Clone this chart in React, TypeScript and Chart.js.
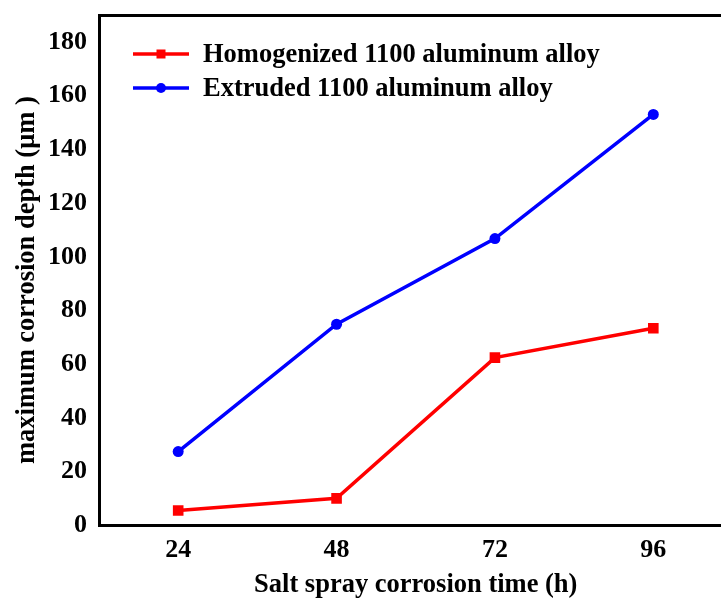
import React, { useEffect, useRef } from "react";
import { Chart, registerables } from "chart.js";

Chart.register(...registerables);

const hours = [24, 48, 72, 96];
const homogenized = [5.6, 10.1, 62.5, 73.4];
const extruded = [27.5, 74.9, 106.8, 153.0];
const yTickValues = [0, 20, 40, 60, 80, 100, 120, 140, 160, 180];
const seriesLabels = ["Homogenized 1100 aluminum alloy", "Extruded 1100 aluminum alloy"];
const xTitle = "Salt spray corrosion time (h)";
const yTitle = "maximum corrosion depth (\u03bcm )   ";

const FONT = '"Liberation Serif", "Times New Roman", serif';
const RED = "#ff0000";
const BLUE = "#0000ff";

const legendPlugin = {
  id: "inlineLegend",
  afterDraw(chart: any) {
    const ctx = chart.ctx;
    ctx.save();
    chart.data.datasets.forEach((ds: any, i: number) => {
      const y = 54 + 34 * i;
      ctx.strokeStyle = ds.borderColor;
      ctx.lineWidth = 3.5;
      ctx.beginPath();
      ctx.moveTo(133, y);
      ctx.lineTo(189, y);
      ctx.stroke();
      ctx.fillStyle = ds.borderColor;
      if (ds.pointStyle === "rect") {
        ctx.fillRect(161 - 4.5, y - 4.5, 9, 9);
      } else {
        ctx.beginPath();
        ctx.arc(161, y, 5, 0, Math.PI * 2);
        ctx.fill();
      }
      ctx.fillStyle = "#000";
      ctx.font = `bold 26.5px ${FONT}`;
      ctx.textBaseline = "middle";
      ctx.textAlign = "left";
      ctx.fillText(ds.label, 203, y + 1);
    });
    ctx.restore();
  },
};

export default function App() {
  const ref = useRef<HTMLCanvasElement | null>(null);
  useEffect(() => {
    if (!ref.current) return;
    const chart = new Chart(ref.current, {
      type: "line",
      data: {
        datasets: [
          {
            label: seriesLabels[0],
            data: hours.map((h, i) => ({ x: h, y: homogenized[i] })),
            borderColor: RED,
            backgroundColor: RED,
            borderWidth: 3.5,
            pointStyle: "rect",
            pointRadius: 7.5,
            pointBorderWidth: 0,
            tension: 0,
          },
          {
            label: seriesLabels[1],
            data: hours.map((h, i) => ({ x: h, y: extruded[i] })),
            borderColor: BLUE,
            backgroundColor: BLUE,
            borderWidth: 3.5,
            pointStyle: "circle",
            pointRadius: 5.5,
            pointBorderWidth: 0,
            tension: 0,
          },
        ],
      },
      options: {
        responsive: false,
        animation: false,
        devicePixelRatio: 1,
        layout: { padding: 0 },
        plugins: { legend: { display: false }, tooltip: { enabled: false } },
        scales: {
          x: {
            type: "linear",
            position: "bottom",
            min: 12,
            max: 108,
            afterBuildTicks: (s: any) => {
              s.ticks = hours.map((v) => ({ value: v }));
            },
            afterFit: (s: any) => {
              s.height = 72.5;
              s.paddingLeft = 0;
              s.paddingRight = 0;
            },
            grid: { display: false, drawTicks: false },
            border: { display: true, color: "#000", width: 3 },
            ticks: {
              color: "#000",
              font: { family: FONT, size: 26, weight: "bold" },
              padding: 9,
              maxRotation: 0,
            },
            title: {
              display: true,
              text: xTitle,
              color: "#000",
              font: { family: FONT, size: 26.5, weight: "bold" },
              padding: { top: 0, bottom: -3 },
            },
          },
          x2: {
            type: "linear",
            position: "top",
            min: 12,
            max: 108,
            afterFit: (s: any) => {
              s.height = 15;
              s.paddingLeft = 0;
              s.paddingRight = 0;
            },
            grid: { display: false, drawTicks: false },
            border: { display: true, color: "#000", width: 3 },
            ticks: { display: false },
          },
          y: {
            type: "linear",
            position: "left",
            min: 0,
            max: 190,
            afterBuildTicks: (s: any) => {
              s.ticks = yTickValues.map((v) => ({ value: v }));
            },
            afterFit: (s: any) => {
              s.width = 99;
              s.paddingTop = 0;
              s.paddingBottom = 0;
            },
            grid: { display: false, drawTicks: false },
            border: { display: true, color: "#000", width: 3 },
            ticks: {
              color: "#000",
              font: { family: FONT, size: 26, weight: "bold" },
              padding: 12,
            },
            title: {
              display: true,
              text: yTitle,
              color: "#000",
              font: { family: FONT, size: 26.5, weight: "bold" },
              padding: { top: 11, bottom: 0 },
            },
          },
          y2: {
            type: "linear",
            position: "right",
            min: 0,
            max: 190,
            afterFit: (s: any) => {
              s.width = 6;
              s.paddingTop = 0;
              s.paddingBottom = 0;
            },
            grid: { display: false, drawTicks: false },
            border: { display: true, color: "#000", width: 3 },
            ticks: { display: false },
          },
        },
      },
      plugins: [legendPlugin],
    } as any);
    return () => chart.destroy();
  }, []);

  return (
    <div
      style={{
        position: "fixed",
        left: 0,
        top: 0,
        width: 721,
        height: 598,
        overflow: "hidden",
        background: "#fff",
      }}
    >
      <canvas ref={ref} width={740} height={598} style={{ display: "block" }} />
    </div>
  );
}
